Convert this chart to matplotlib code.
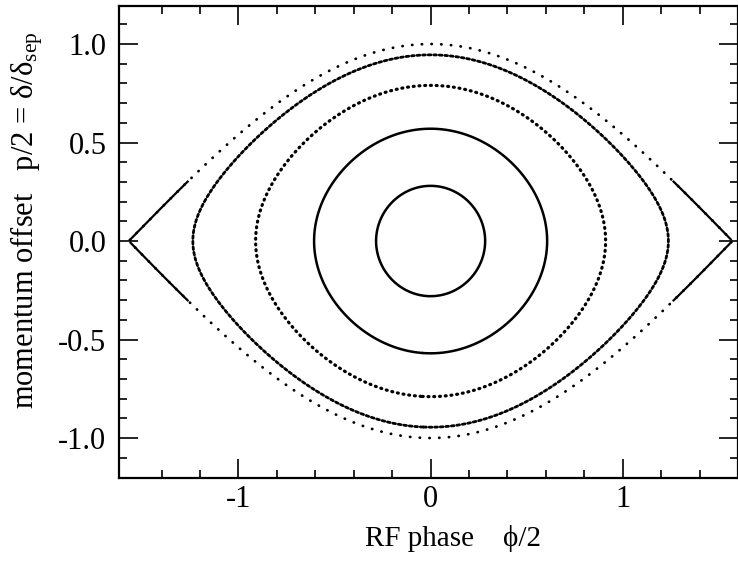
import numpy as np
import matplotlib
matplotlib.use("Agg")
import matplotlib.pyplot as plt

# Amplitudes of the orbits (p/2 at phi = 0)
orbit_amp = [0.28, 0.57, 0.79, 0.945, 1.0]
orbit_style = ["-", "-", (0, (0.3, 1.5)), (0, (1.0, 1.0)), (0, (0.1, 3.4))]
orbit_lw = [1.8, 1.8, 2.3, 2.0, 2.0]
# near the unstable points the tracked dots pile up into a solid line
solid_from = 1.26

xticks = [-1, 0, 1]
xticklabels = ["-1", "0", "1"]
yticks = [-1.0, -0.5, 0.0, 0.5, 1.0]
yticklabels = ["-1.0", "-0.5", "0.0", "0.5", "1.0"]

plt.rcParams["font.family"] = ["Liberation Serif", "DejaVu Serif"]
plt.rcParams["mathtext.fontset"] = "custom"
plt.rcParams["mathtext.rm"] = "Liberation Serif"
plt.rcParams["mathtext.it"] = "Liberation Serif"

fig = plt.figure(figsize=(7.38, 5.70), dpi=100)
ax = fig.add_axes([119 / 738, 1 - 478 / 570, 1 - 119 / 738, (478 - 6) / 570])

# Hamiltonian of the pendulum, orbits are its level lines
x = np.linspace(-np.pi / 2 + 0.005, np.pi / 2 - 0.005, 1201)
y = np.linspace(-1.1, 1.1, 1201)
X, Y = np.meshgrid(x, y)
H = Y ** 2 + np.sin(X) ** 2
levels = [a ** 2 for a in orbit_amp]
cs = ax.contour(X, Y, H, levels=levels, colors="black",
                linestyles=orbit_style, linewidths=orbit_lw)
cs.set_capstyle("round")

# solid ends of the separatrix
for side in (X[0] < -solid_from, X[0] > solid_from):
    ax.contour(X[:, side], Y[:, side], H[:, side], levels=[levels[-1]],
               colors="black", linestyles="-", linewidths=1.6)

ax.set_xlim(-1.622, 1.60)
ax.set_ylim(-1.203, 1.193)

ax.set_xticks(xticks)
ax.set_xticklabels(xticklabels)
ax.set_yticks(yticks)
ax.set_yticklabels(yticklabels)
ax.set_xticks(np.arange(-1.4, 1.41, 0.2), minor=True)
ax.set_yticks(np.arange(-1.1, 1.11, 0.1), minor=True)

ax.tick_params(which="both", direction="in", top=True, right=True, width=1.2)
ax.tick_params(which="major", length=14, labelsize=22)
ax.tick_params(axis="y", which="major", pad=9)
ax.tick_params(axis="x", which="major", pad=5)
ax.tick_params(which="minor", length=5.5)
for s in ax.spines.values():
    s.set_linewidth(1.6)

ax.set_xlabel("RF phase    ϕ/2", fontsize=21)
ax.set_ylabel("momentum offset   p/2 = δ/δ$_{\\rm sep}$", fontsize=22)
ax.xaxis.set_label_coords(0.54, -0.10)
ax.yaxis.set_label_coords(-0.12, 0.547)

fig.savefig("out.png", dpi=100)
